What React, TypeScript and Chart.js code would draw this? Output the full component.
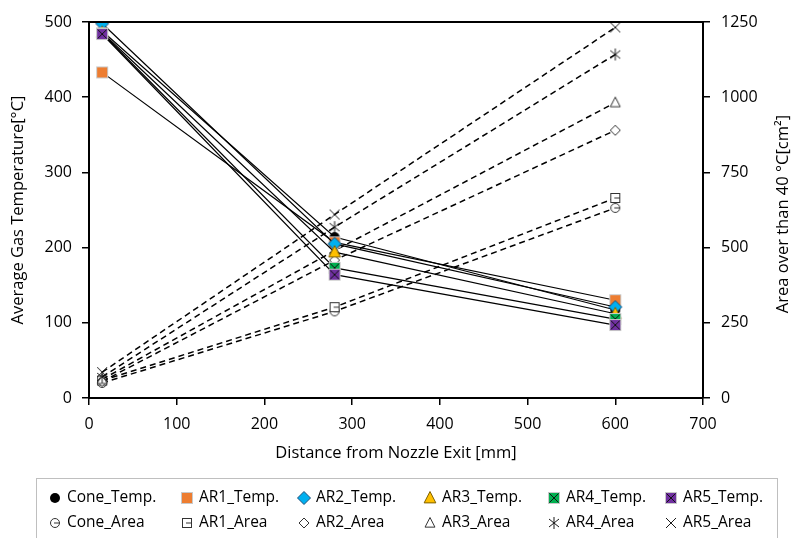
import { useEffect, useRef } from "react";
import { Chart, registerables } from "chart.js";

Chart.register(...registerables);

// Measurement positions along the jet axis [mm]
const distances = [15, 280, 600];

// Average gas temperature [°C]
const coneTemp = [488, 214, 117];
const ar1Temp = [433, 207, 130];
const ar2Temp = [498, 205, 121];
const ar3Temp = [486, 194, 112];
const ar4Temp = [485, 173, 105];
const ar5Temp = [484, 164, 97];

// Area hotter than 40 °C [cm²]
const coneArea = [50, 288, 632];
const ar1Area = [58, 302, 665];
const ar2Area = [55, 458, 890];
const ar3Area = [62, 490, 982];
const ar4Area = [70, 568, 1142];
const ar5Area = [86, 610, 1232];

const xTitle = "Distance from Nozzle Exit [mm]";
const yTitle = "Average Gas Temperature[°C]";
const y2Title = "Area over than 40 °C[cm²]";

const FONT = "'Open Sans', 'Noto Sans', sans-serif";
const TITLE_SIZE = 16.5;
const TICK_SIZE = 16;

type Kind =
  | "coneT" | "ar1T" | "ar2T" | "ar3T" | "ar4T" | "ar5T"
  | "coneA" | "ar1A" | "ar2A" | "ar3A" | "ar4A" | "ar5A";

function drawMarker(ctx: CanvasRenderingContext2D, kind: Kind, x: number, y: number) {
  ctx.save();
  ctx.lineWidth = 1;
  ctx.lineJoin = "miter";
  const sq = (s: number, fill: string, stroke: string) => {
    ctx.fillStyle = fill;
    ctx.fillRect(x - s / 2, y - s / 2, s, s);
    ctx.strokeStyle = stroke;
    ctx.strokeRect(x - s / 2, y - s / 2, s, s);
  };
  const cross = (r: number, color: string) => {
    ctx.strokeStyle = color;
    ctx.beginPath();
    ctx.moveTo(x - r, y - r); ctx.lineTo(x + r, y + r);
    ctx.moveTo(x + r, y - r); ctx.lineTo(x - r, y + r);
    ctx.stroke();
  };
  const diamond = (r: number, fill: string, stroke: string) => {
    ctx.beginPath();
    ctx.moveTo(x, y - r); ctx.lineTo(x + r, y); ctx.lineTo(x, y + r); ctx.lineTo(x - r, y);
    ctx.closePath();
    ctx.fillStyle = fill; ctx.fill();
    ctx.strokeStyle = stroke; ctx.stroke();
  };
  const tri = (r: number, fill: string, stroke: string) => {
    ctx.beginPath();
    ctx.moveTo(x, y - r); ctx.lineTo(x + r * 0.9, y + r * 0.75); ctx.lineTo(x - r * 0.9, y + r * 0.75);
    ctx.closePath();
    ctx.fillStyle = fill; ctx.fill();
    ctx.strokeStyle = stroke; ctx.stroke();
  };
  switch (kind) {
    case "coneT":
      ctx.beginPath(); ctx.arc(x, y, 5, 0, Math.PI * 2);
      ctx.fillStyle = "#000"; ctx.fill();
      break;
    case "ar1T": sq(11, "#ED7D31", "#c9c9c9"); break;
    case "ar2T": diamond(6.5, "#00B0F0", "#1f4e79"); break;
    case "ar3T": tri(6.5, "#FFC000", "#7f6000"); break;
    case "ar4T": sq(11, "#00B050", "#c9c9c9"); cross(4.5, "#111"); break;
    case "ar5T": sq(11, "#7030A0", "#c9c9c9"); cross(4.5, "#111"); break;
    case "coneA":
      ctx.beginPath(); ctx.arc(x, y, 4.5, 0, Math.PI * 2);
      ctx.fillStyle = "#fff"; ctx.fill();
      ctx.strokeStyle = "#333"; ctx.stroke();
      ctx.beginPath(); ctx.moveTo(x - 1, y); ctx.lineTo(x + 4.5, y); ctx.stroke();
      break;
    case "ar1A":
      sq(9, "#fff", "#333");
      ctx.beginPath(); ctx.moveTo(x - 1, y); ctx.lineTo(x + 4.5, y); ctx.stroke();
      break;
    case "ar2A": diamond(5, "#fff", "#333"); break;
    case "ar3A": tri(5.5, "#fff", "#333"); break;
    case "ar4A":
      ctx.strokeStyle = "#1a1a1a";
      ctx.beginPath();
      ctx.moveTo(x, y - 6); ctx.lineTo(x, y + 6);
      ctx.moveTo(x - 5, y - 4); ctx.lineTo(x + 5, y + 4);
      ctx.moveTo(x + 5, y - 4); ctx.lineTo(x - 5, y + 4);
      ctx.stroke();
      break;
    case "ar5A": cross(5, "#1a1a1a"); break;
  }
  ctx.restore();
}

function markerImage(kind: Kind): HTMLCanvasElement {
  const c = document.createElement("canvas");
  c.width = 18;
  c.height = 18;
  const ctx = c.getContext("2d")!;
  drawMarker(ctx, kind, 9, 9);
  return c;
}

const legendItems: { kind: Kind; label: string }[][] = [
  [
    { kind: "coneT", label: "Cone_Temp." },
    { kind: "ar1T", label: "AR1_Temp." },
    { kind: "ar2T", label: "AR2_Temp." },
    { kind: "ar3T", label: "AR3_Temp." },
    { kind: "ar4T", label: "AR4_Temp." },
    { kind: "ar5T", label: "AR5_Temp." },
  ],
  [
    { kind: "coneA", label: "Cone_Area" },
    { kind: "ar1A", label: "AR1_Area" },
    { kind: "ar2A", label: "AR2_Area" },
    { kind: "ar3A", label: "AR3_Area" },
    { kind: "ar4A", label: "AR4_Area" },
    { kind: "ar5A", label: "AR5_Area" },
  ],
];
const legendCols = [55, 187, 304, 430, 554, 671];
const legendRows = [498, 523];

const framePlugin = {
  id: "frameAndLegend",
  afterDraw(chart: Chart) {
    const { ctx, chartArea } = chart;
    ctx.save();
    // top border of the plot box
    ctx.strokeStyle = "#000";
    ctx.lineWidth = 2;
    ctx.beginPath();
    ctx.moveTo(chartArea.left - 1, chartArea.top);
    ctx.lineTo(chartArea.right + 1, chartArea.top);
    ctx.stroke();

    // secondary axis title, read bottom-to-top like the primary one
    ctx.save();
    ctx.translate(783, (chartArea.top + chartArea.bottom) / 2 + 4);
    ctx.rotate(-Math.PI / 2);
    ctx.font = `${TITLE_SIZE}px ${FONT}`;
    ctx.fillStyle = "#000";
    ctx.textAlign = "center";
    ctx.textBaseline = "middle";
    ctx.fillText(y2Title, 0, 0);
    ctx.restore();

    // legend box
    ctx.strokeStyle = "#bfbfbf";
    ctx.lineWidth = 1;
    ctx.strokeRect(36.5, 478.5, 741, 70);
    ctx.font = `15.5px ${FONT}`;
    ctx.fillStyle = "#000";
    ctx.textBaseline = "middle";
    ctx.textAlign = "left";
    legendItems.forEach((row, r) => {
      row.forEach((it, c) => {
        const mx = legendCols[c];
        const my = legendRows[r];
        drawMarker(ctx, it.kind, mx, my);
        ctx.fillText(it.label, mx + 12, my);
      });
    });
    ctx.restore();
  },
};

export default function App() {
  const ref = useRef<HTMLCanvasElement | null>(null);

  useEffect(() => {
    if (!ref.current) return;
    const temp = (label: string, data: number[], kind: Kind) => ({
      label,
      data: distances.map((x, i) => ({ x, y: data[i] })),
      yAxisID: "y",
      borderColor: "#000",
      borderWidth: 1.2,
      pointStyle: markerImage(kind),
      pointRadius: 6,
      showLine: true,
    });
    const area = (label: string, data: number[], kind: Kind) => ({
      label,
      data: distances.map((x, i) => ({ x, y: data[i] })),
      yAxisID: "y2",
      borderColor: "#000",
      borderWidth: 1.5,
      borderDash: [6, 4],
      pointStyle: markerImage(kind),
      pointRadius: 6,
      showLine: true,
    });

    const axisGrid = { drawOnChartArea: false, drawTicks: true, tickLength: 7, color: "#000", lineWidth: 1.5 };
    const axisBorder = { display: true, color: "#000", width: 2 };

    const chart = new Chart(ref.current, {
      type: "scatter",
      data: {
        datasets: [
          temp("AR5_Temp.", ar5Temp, "ar5T"),
          temp("AR4_Temp.", ar4Temp, "ar4T"),
          temp("AR3_Temp.", ar3Temp, "ar3T"),
          temp("AR2_Temp.", ar2Temp, "ar2T"),
          temp("AR1_Temp.", ar1Temp, "ar1T"),
          temp("Cone_Temp.", coneTemp, "coneT"),
          area("AR5_Area", ar5Area, "ar5A"),
          area("AR4_Area", ar4Area, "ar4A"),
          area("AR3_Area", ar3Area, "ar3A"),
          area("AR2_Area", ar2Area, "ar2A"),
          area("AR1_Area", ar1Area, "ar1A"),
          area("Cone_Area", coneArea, "coneA"),
        ] as any,
      },
      options: {
        animation: false,
        responsive: false,
        layout: { padding: { top: 22, left: 0, right: 0, bottom: 0 } },
        plugins: { legend: { display: false }, tooltip: { enabled: false } },
        scales: {
          x: {
            type: "linear",
            min: 0,
            max: 700,
            ticks: { stepSize: 100, color: "#000", font: { family: FONT, size: TICK_SIZE }, padding: 10 },
            grid: axisGrid,
            border: axisBorder,
            title: { display: true, text: xTitle, color: "#000", font: { family: FONT, size: TITLE_SIZE }, padding: { top: 0, bottom: 75 } },
            afterFit(scale: any) { scale.height = 140; },
          },
          y: {
            type: "linear",
            position: "left",
            min: 0,
            max: 500,
            ticks: { stepSize: 100, color: "#000", font: { family: FONT, size: TICK_SIZE }, padding: 10 },
            grid: axisGrid,
            border: axisBorder,
            title: { display: true, text: yTitle, color: "#000", font: { family: FONT, size: TITLE_SIZE }, padding: { top: 8, bottom: 0 } },
            afterFit(scale: any) { scale.width = 89; },
          },
          y2: {
            type: "linear",
            position: "right",
            min: 0,
            max: 1250,
            ticks: {
              stepSize: 250,
              color: "#000",
              font: { family: FONT, size: TICK_SIZE },
              padding: 11,
              callback: (v: number | string) => String(v),
            },
            grid: axisGrid,
            border: axisBorder,
            title: { display: false },
            afterFit(scale: any) { scale.width = 90; },
          },
        },
      } as any,
      plugins: [framePlugin],
    });
    return () => chart.destroy();
  }, []);

  return (
    <div style={{ position: "absolute", left: 0, top: 0, width: 793, height: 538, background: "#fff" }}>
      <canvas ref={ref} width={793} height={538} style={{ display: "block" }} />
    </div>
  );
}
